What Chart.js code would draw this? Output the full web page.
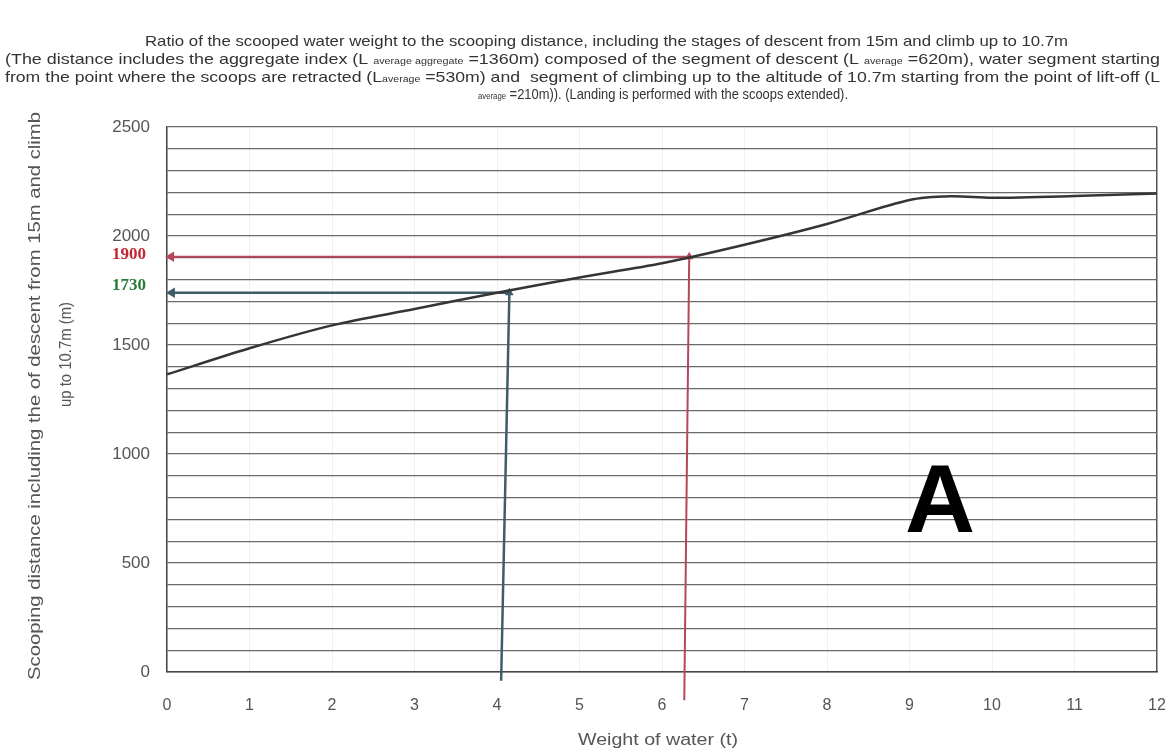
<!DOCTYPE html>
<html>
<head>
<meta charset="utf-8">
<script src="https://cdn.jsdelivr.net/npm/chart.js@4.4.1/dist/chart.umd.min.js"></script>
<style>
  html, body { margin: 0; padding: 0; background: #fff; }
  #wrap { width: 1172px; height: 756px; }
</style>
</head>
<body>
<div id="wrap"><canvas id="grafico" width="1172" height="756"></canvas></div>
<script>
// Datos
const weights   = [0, 1, 2, 3, 4, 5, 6, 7, 8, 9, 9.5, 10, 11, 12];
const distances = [1365, 1485, 1590, 1665, 1740, 1810, 1875, 1960, 2055, 2165, 2182, 2175, 2183, 2195];

// flechas de lectura (abajo -> curva -> eje y)
const arrowBlueX = [4.05, 4.15, 0.06];
const arrowBlueY = [-40, 1740, 1740];
const arrowRedX  = [6.27, 6.33, 0.05];
const arrowRedY  = [-130, 1905, 1905];

const xTicks = [0, 1, 2, 3, 4, 5, 6, 7, 8, 9, 10, 11, 12];
const yLabeled = [0, 500, 1000, 1500, 2000, 2500];

// Texto del titulo: [texto, pequeño?]
const titleLines = [
  { l: 145, r: 1068, y: 42, seg: [["Ratio of the scooped water weight to the scooping distance, including the stages of descent from 15m and climb up to 10.7m", false]] },
  { l: 5, r: 1160, y: 60, seg: [["(The distance includes the aggregate index (L ", false], ["average aggregate", true], [" =1360m) composed of the segment of descent (L ", false], ["average", true], [" =620m), water segment starting", false]] },
  { l: 5, r: 1160, y: 78, seg: [["from the point where the scoops are retracted (L", false], ["average", true], [" =530m) and  segment of climbing up to the altitude of 10.7m starting from the point of lift-off (L", false]] },
  { l: 478, r: 848, y: 95, seg: [["average", true], [" =210m)). (Landing is performed with the scoops extended).", false]] }
];

function drawFitted(ctx, segs, x0, x1, y, size, color) {
  ctx.save();
  let w = 0;
  segs.forEach(s => {
    ctx.font = (s[1] ? size * 0.6 : size) + "px 'Liberation Sans', Arial, sans-serif";
    w += ctx.measureText(s[0]).width;
  });
  ctx.translate(x0, y);
  ctx.scale((x1 - x0) / w, 1);
  ctx.fillStyle = color;
  ctx.textBaseline = "middle";
  ctx.textAlign = "left";
  let cx = 0;
  segs.forEach(s => {
    ctx.font = (s[1] ? size * 0.6 : size) + "px 'Liberation Sans', Arial, sans-serif";
    ctx.fillText(s[0], cx, s[1] ? 2 : 0);
    cx += ctx.measureText(s[0]).width;
  });
  ctx.restore();
}

const textosPlugin = {
  id: "textos",
  beforeDraw(chart) {
    const c = chart.ctx;
    c.save();
    c.fillStyle = "#fff";
    c.fillRect(0, 0, chart.width, chart.height);
    c.restore();
  },
  afterDraw(chart) {
    const c = chart.ctx;
    const ys = chart.scales.y;
    titleLines.forEach(t => drawFitted(c, t.seg, t.l, t.r, t.y, 15, "#333"));

    // titulo eje y (rotado)
    c.save();
    c.translate(36, 0);
    c.rotate(-Math.PI / 2);
    drawFitted(c, [["Scooping distance including the of descent from 15m and climb", false]], -680, -112, 0, 16, "#555");
    c.restore();
    c.save();
    c.translate(67, 0);
    c.rotate(-Math.PI / 2);
    drawFitted(c, [["up to 10.7m (m)", false]], -407, -302, 0, 16, "#555");
    c.restore();

    // titulo eje x
    drawFitted(c, [["Weight of water (t)", false]], 578, 738, 741, 16, "#555");

    // valores leidos
    c.save();
    c.font = "bold 17px 'Liberation Serif', 'DejaVu Serif', serif";
    c.textAlign = "right";
    c.textBaseline = "middle";
    c.fillStyle = "#c0282f";
    c.fillText("1900", 146, ys.getPixelForValue(1905) - 2);
    c.fillStyle = "#2a7a3a";
    c.fillText("1730", 146, ys.getPixelForValue(1740) - 7);
    c.restore();

    // letra A
    c.save();
    c.font = "bold 97px 'Liberation Sans', Arial, sans-serif";
    c.textAlign = "center";
    c.textBaseline = "alphabetic";
    c.fillStyle = "#000";
    c.fillText("A", 940, 532);
    c.restore();
  }
};

function puntos(xs, ys) {
  return xs.map((x, i) => ({ x: x, y: ys[i] }));
}

const ctx = document.getElementById("grafico").getContext("2d");
new Chart(ctx, {
  type: "line",
  data: {
    datasets: [
      {
        data: puntos(weights, distances),
        borderColor: "#353535",
        borderWidth: 2.5,
        pointRadius: 0,
        tension: 0.3,
        fill: false
      },
      {
        data: puntos(arrowBlueX, arrowBlueY),
        borderColor: "#3f5c68",
        borderWidth: 2.5,
        pointRadius: [0, 5, 6],
        pointStyle: "triangle",
        rotation: [0, 0, 270],
        pointBackgroundColor: "#3f5c68",
        pointBorderWidth: 0,
        clip: false,
        tension: 0
      },
      {
        data: puntos(arrowRedX, arrowRedY),
        borderColor: "#b4485a",
        borderWidth: 2,
        pointRadius: [0, 5, 6],
        pointStyle: "triangle",
        rotation: [0, 0, 270],
        pointBackgroundColor: "#b4485a",
        pointBorderWidth: 0,
        clip: false,
        tension: 0
      }
    ]
  },
  options: {
    responsive: false,
    animation: false,
    events: [],
    layout: { padding: { top: 127, right: 15, left: 0, bottom: 0 } },
    plugins: { legend: { display: false }, title: { display: false }, tooltip: { enabled: false } },
    scales: {
      x: {
        type: "linear",
        min: 0,
        max: 12,
        afterFit: s => { s.height = 84; s.paddingRight = 0; s.paddingLeft = 0; },
        afterBuildTicks: s => { s.ticks = xTicks.map(v => ({ value: v })); },
        ticks: { color: "#555", padding: 24, autoSkip: false, maxRotation: 0, font: { size: 16, family: "'Liberation Sans', Arial, sans-serif" } },
        grid: {
          drawTicks: false,
          tickLength: 0,
          lineWidth: ctx => (ctx.tick && ctx.tick.value === 12 ? 1.5 : 1),
          color: ctx => (ctx.tick && ctx.tick.value === 12 ? "#555" : "rgba(0,0,0,0.06)")
        },
        border: { display: true, color: "#444", width: 1.5 }
      },
      y: {
        min: 0,
        max: 2500,
        afterFit: s => { s.width = 167; s.paddingTop = 0; s.paddingBottom = 0; },
        ticks: {
          stepSize: 100,
          autoSkip: false,
          color: "#555",
          padding: 17,
          font: { size: 17, family: "'Liberation Sans', Arial, sans-serif" },
          callback: v => (yLabeled.includes(v) ? v : "")
        },
        grid: { drawTicks: false, tickLength: 0, color: "#6a6a6a", lineWidth: 1.2 },
        border: { display: true, color: "#444", width: 1.5 }
      }
    }
  },
  plugins: [textosPlugin]
});
</script>
</body>
</html>
